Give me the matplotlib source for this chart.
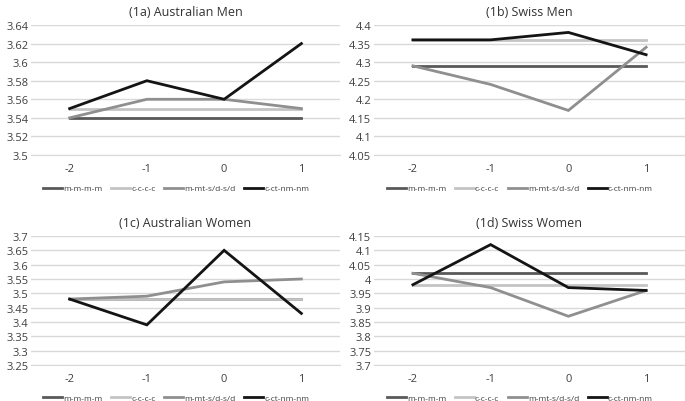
import numpy as np
import matplotlib
matplotlib.use("Agg")
import matplotlib.pyplot as plt
from matplotlib.ticker import FuncFormatter

plt.rcParams['font.family'] = ['Open Sans', 'DejaVu Sans']

# data
waves = ["-2", "-1", "0", "1"]
series_names = ["m-m-m-m", "c-c-c-c", "m-mt-s/d-s/d", "c-ct-nm-nm"]
colors = ["#595959", "#c4c4c4", "#8f8f8f", "#141414"]

aus_men = [[3.54, 3.54, 3.54, 3.54],
           [3.55, 3.55, 3.55, 3.55],
           [3.54, 3.56, 3.56, 3.55],
           [3.55, 3.58, 3.56, 3.62]]
swiss_men = [[4.29, 4.29, 4.29, 4.29],
             [4.36, 4.36, 4.36, 4.36],
             [4.29, 4.24, 4.17, 4.34],
             [4.36, 4.36, 4.38, 4.32]]
aus_women = [[3.48, 3.48, 3.48, 3.48],
             [3.48, 3.48, 3.48, 3.48],
             [3.48, 3.49, 3.54, 3.55],
             [3.48, 3.39, 3.65, 3.43]]
swiss_women = [[4.02, 4.02, 4.02, 4.02],
               [3.98, 3.98, 3.98, 3.98],
               [4.02, 3.97, 3.87, 3.96],
               [3.98, 4.12, 3.97, 3.96]]

panels = [
    ("(1a) Australian Men", aus_men, 3.5, 3.64, 0.02),
    ("(1b) Swiss Men", swiss_men, 4.05, 4.4, 0.05),
    ("(1c) Australian Women", aus_women, 3.25, 3.7, 0.05),
    ("(1d) Swiss Women", swiss_women, 3.7, 4.15, 0.05),
]

W, H = 685, 402
fig = plt.figure(figsize=(W / 100, H / 100), dpi=100)

# pixel boxes: left, right, top, bottom
boxes = [(31, 340, 26, 156), (374, 685, 26, 156),
         (31, 340, 237, 366), (374, 685, 237, 366)]

for (title, data, lo, hi, step), (l, r, t, b) in zip(panels, boxes):
    ax = fig.add_axes([l / W, 1 - b / H, (r - l) / W, (b - t) / H])
    x = np.arange(len(waves))
    for vals, name, c in zip(data, series_names, colors):
        ax.plot(x, vals, color=c, lw=2, label=name, solid_joinstyle='miter')
    ax.set_xlim(-0.5, 3.5)
    ax.set_ylim(lo, hi)
    ticks = np.round(np.arange(lo, hi + step / 2, step), 4)
    ax.set_yticks(ticks)
    ax.yaxis.set_major_formatter(FuncFormatter(lambda v, p: "%g" % round(v, 4)))
    ax.set_xticks(x)
    ax.set_xticklabels(waves)
    ax.grid(axis='y', color='#d9d9d9', lw=1)
    ax.set_axisbelow(True)
    for s in ['top', 'right', 'left']:
        ax.spines[s].set_visible(False)
    ax.spines['bottom'].set_color('#d9d9d9')
    ax.tick_params(length=0, labelsize=8, colors='#404040')
    ax.tick_params(axis='x', pad=6)
    ax.tick_params(axis='y', pad=2)
    ax.set_title(title, fontsize=9, color='#333333', pad=7)
    ax.legend(loc='upper center', bbox_to_anchor=(0.47, -0.17), ncol=4,
              frameon=False, fontsize=6, handlelength=2.2,
              handletextpad=0.15, columnspacing=1.1, labelcolor='#404040')

fig.savefig("out.png", dpi=100)
